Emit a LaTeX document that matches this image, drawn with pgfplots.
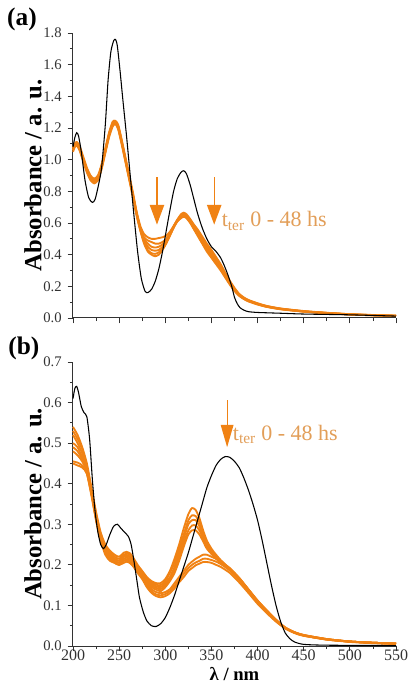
\documentclass[border=0pt]{standalone}
\usepackage{pgfplots}
\pgfplotsset{compat=1.18}
\usepackage{pgfplotstable}
\usepackage{fontspec}
\setmainfont{Liberation Serif}
\definecolor{org}{RGB}{240,130,20}
\definecolor{tan}{RGB}{226,158,88}
\definecolor{tick}{RGB}{50,50,50}

\pgfplotstableread{
x y
200 1.08
202 1.14
204 1.17
206 1.15
209 1.05
213 0.87
217 0.76
221 0.73
224 0.75
228 0.85
231 0.95
235 1.22
238 1.50
241 1.68
244 1.75
246 1.76
248 1.72
251 1.56
254 1.38
258 1.15
262 0.90
266 0.65
270 0.42
274 0.25
278 0.17
281 0.16
285 0.18
289 0.23
293 0.31
297 0.42
301 0.55
305 0.68
309 0.80
313 0.88
317 0.92
320 0.93
323 0.91
327 0.84
331 0.75
335 0.66
340 0.57
345 0.50
350 0.45
355 0.42
360 0.38
364 0.33
368 0.27
372 0.20
375 0.13
378 0.09
381 0.065
385 0.05
390 0.04
400 0.035
425 0.03
450 0.025
500 0.02
550 0.012
}\blackA

\pgfplotstableread{
x o1 o2 o3 o4 o5 o6
200 1.05 1.06 1.06 1.07 1.07 1.08
202 1.08 1.09 1.09 1.10 1.10 1.10
204 1.09 1.10 1.10 1.11 1.11 1.11
207 1.06 1.07 1.07 1.08 1.08 1.09
211 0.99 1.00 1.00 1.01 1.01 1.02
215 0.92 0.93 0.93 0.94 0.94 0.95
219 0.87 0.88 0.88 0.89 0.89 0.90
223 0.85 0.86 0.86 0.87 0.87 0.88
227 0.87 0.88 0.88 0.89 0.89 0.90
231 0.94 0.95 0.95 0.96 0.96 0.97
235 1.04 1.05 1.05 1.06 1.06 1.07
239 1.14 1.15 1.15 1.16 1.16 1.17
243 1.21 1.22 1.22 1.23 1.23 1.24
246 1.225 1.23 1.235 1.24 1.24 1.245
249 1.19 1.20 1.20 1.21 1.21 1.22
253 1.09 1.10 1.10 1.11 1.11 1.12
257 0.98 0.99 0.99 1.00 1.00 1.01
261 0.87 0.88 0.88 0.89 0.89 0.90
265 0.76 0.77 0.77 0.78 0.78 0.79
269 0.645 0.65 0.655 0.66 0.665 0.67
273 0.55 0.555 0.56 0.565 0.57 0.58
277 0.47 0.48 0.49 0.50 0.51 0.53
281 0.42 0.43 0.45 0.47 0.49 0.51
285 0.40 0.41 0.43 0.45 0.48 0.50
289 0.39 0.405 0.425 0.445 0.47 0.50
293 0.40 0.415 0.43 0.45 0.47 0.505
297 0.43 0.44 0.45 0.465 0.48 0.51
301 0.47 0.475 0.485 0.49 0.50 0.52
305 0.52 0.52 0.525 0.53 0.535 0.545
309 0.57 0.57 0.575 0.575 0.58 0.58
313 0.61 0.61 0.615 0.615 0.62 0.62
317 0.63 0.635 0.64 0.645 0.65 0.655
320 0.64 0.645 0.65 0.655 0.66 0.665
323 0.63 0.635 0.64 0.645 0.65 0.655
327 0.60 0.605 0.61 0.615 0.62 0.625
331 0.56 0.565 0.57 0.58 0.585 0.59
335 0.52 0.525 0.535 0.545 0.55 0.56
340 0.47 0.475 0.485 0.495 0.505 0.515
345 0.42 0.43 0.44 0.45 0.46 0.47
350 0.38 0.39 0.40 0.41 0.42 0.43
355 0.34 0.35 0.36 0.37 0.38 0.385
360 0.30 0.31 0.315 0.325 0.335 0.34
365 0.255 0.26 0.27 0.275 0.28 0.285
370 0.21 0.215 0.22 0.225 0.23 0.235
375 0.17 0.175 0.18 0.18 0.185 0.19
380 0.14 0.143 0.146 0.148 0.15 0.153
385 0.12 0.122 0.124 0.126 0.128 0.13
390 0.105 0.107 0.109 0.11 0.112 0.114
400 0.085 0.087 0.088 0.09 0.091 0.093
410 0.07 0.071 0.072 0.074 0.075 0.076
425 0.055 0.056 0.057 0.058 0.059 0.06
450 0.04 0.041 0.041 0.042 0.043 0.044
475 0.03 0.031 0.031 0.032 0.032 0.033
500 0.022 0.022 0.023 0.023 0.024 0.024
525 0.017 0.017 0.018 0.018 0.018 0.019
550 0.013 0.013 0.014 0.014 0.014 0.015
}\orangeA

\pgfplotstableread{
x y
200 0.61
202 0.635
204 0.64
206 0.625
209 0.59
212 0.575
215 0.565
218 0.51
221 0.41
224 0.33
227 0.28
230 0.25
233 0.24
236 0.25
240 0.275
244 0.295
248 0.30
252 0.29
256 0.28
260 0.27
263 0.25
266 0.21
269 0.165
272 0.12
276 0.085
280 0.062
285 0.05
290 0.048
295 0.055
300 0.07
305 0.095
310 0.125
315 0.16
320 0.195
325 0.23
330 0.27
335 0.31
340 0.35
345 0.39
350 0.42
355 0.445
360 0.46
365 0.467
370 0.465
375 0.455
380 0.44
385 0.415
390 0.385
395 0.35
400 0.31
405 0.26
410 0.205
415 0.15
420 0.10
425 0.06
430 0.032
435 0.018
440 0.01
450 0.004
475 0.002
550 0.001
}\blackB

\pgfplotstableread{
x c1 c2 c3 c4 c5 c6 c7 c8
200 .54 .53 .52 .50 .49 .48 .455 .45
205 .52 .51 .50 .49 .48 .47 .452 .445
210 .49 .485 .475 .465 .46 .455 .445 .44
215 .45 .445 .44 .435 .43 .43 .425 .425
220 .39 .385 .385 .38 .38 .375 .375 .37
225 .33 .325 .32 .32 .315 .315 .31 .31
230 .28 .275 .27 .27 .265 .265 .26 .26
235 .25 .245 .24 .24 .235 .235 .23 .225
240 .235 .23 .225 .225 .22 .215 .215 .21
245 .225 .22 .215 .215 .21 .21 .205 .205
250 .22 .215 .21 .21 .205 .205 .2 .2
255 .23 .225 .22 .22 .215 .21 .21 .205
258 .232 .228 .224 .222 .218 .214 .21 .208
262 .228 .224 .22 .218 .214 .21 .206 .204
266 .215 .211 .208 .205 .202 .199 .196 .194
270 .2 .197 .194 .191 .188 .185 .182 .18
275 .185 .182 .179 .176 .173 .17 .167 .165
280 .17 .167 .164 .161 .158 .153 .149 .145
285 .16 .157 .153 .149 .145 .14 .135 .131
290 .155 .151 .147 .143 .139 .133 .127 .123
295 .155 .15 .145 .14 .135 .13 .125 .12
300 .165 .16 .155 .15 .145 .133 .128 .123
305 .185 .18 .17 .165 .16 .14 .135 .13
310 .215 .205 .195 .19 .18 .155 .148 .142
315 .25 .24 .23 .22 .21 .17 .163 .157
320 .29 .275 .265 .255 .245 .185 .178 .17
325 .325 .31 .30 .285 .275 .2 .192 .185
329 .34 .322 .31 .297 .285 .208 .2 .192
333 .335 .32 .31 .297 .285 .215 .206 .199
337 .315 .305 .295 .285 .275 .22 .21 .203
341 .285 .28 .272 .265 .258 .225 .215 .207
345 .26 .255 .25 .245 .24 .225 .215 .207
350 .24 .237 .234 .23 .227 .22 .212 .205
355 .225 .222 .22 .218 .215 .215 .208 .2
360 .212 .21 .208 .207 .205 .208 .202 .195
370 .19 .19 .189 .188 .187 .192 .186 .18
380 .168 .167 .166 .165 .164 .168 .163 .157
390 .14 .139 .138 .137 .136 .14 .136 .131
400 .112 .111 .11 .109 .108 .112 .108 .104
410 .088 .087 .086 .085 .084 .087 .084 .081
420 .065 .064 .064 .063 .062 .064 .062 .06
430 .046 .045 .045 .044 .044 .045 .044 .043
440 .034 .034 .033 .033 .033 .034 .033 .032
450 .027 .027 .026 .026 .026 .027 .026 .025
475 .017 .017 .017 .016 .016 .017 .016 .016
500 .011 .011 .011 .011 .011 .011 .011 .01
525 .008 .008 .008 .008 .008 .008 .008 .007
550 .006 .006 .006 .006 .006 .006 .006 .005
}\orangeB

\pgfplotsset{
  panel/.style={
    scale only axis,
    width=242.25pt,
    xmin=200, xmax=550,
    ymin=0,
    axis x line*=bottom,
    axis y line*=left,
    axis line style={line width=0.75pt, black!80},
    tick align=outside,
    tick style={black!80, line width=0.6pt},
    major tick length=4pt,
    minor tick length=2.3pt,
    xtick={200,250,...,550},
    minor x tick num=1,
    minor y tick num=1,
    /pgf/number format/assume math mode=true,
    yticklabel style={font=\fontsize{11}{12}\selectfont, text=tick,
      /pgf/number format/fixed, /pgf/number format/fixed zerofill,
      /pgf/number format/precision=1, xshift=-1pt},
    xticklabel style={font=\fontsize{12}{13}\selectfont, text=tick, inner sep=0.5pt, yshift=2pt},
    ylabel={\textbf{Absorbance / a. u.}},
    ylabel style={font=\fontsize{18.5}{20}\selectfont, at={(axis description cs:-0.124,0.5)}, anchor=center, rotate=0},
    clip=false,
    oline/.style={org, line width=1.4pt, smooth, tension=0.4},
    bline/.style={black, line width=0.8pt, smooth, tension=0.4},
  }
}

\begin{document}
\begin{tikzpicture}
\path[use as bounding box] (-54.75pt,-31.5pt) rectangle (252pt,484.5pt);

% panel (a)
\begin{axis}[panel, at={(0,246pt)}, height=213.75pt, ymax=1.8,
  ytick={0,0.2,...,1.8}, xticklabels={}]
\pgfplotsinvokeforeach{o1,o2,o3,o4,o5,o6}{
  \addplot[oline] table[x=x, y=#1] {\orangeA};
}
\addplot[bline] table[x=x, y=y] {\blackA};
\draw[org, line width=0.9pt] (axis cs:291,0.89) -- (axis cs:291,0.70);
\fill[org] (axis cs:283,0.715) -- (axis cs:299,0.715) -- (axis cs:291,0.59) -- cycle;
\draw[org, line width=0.9pt] (axis cs:353,0.89) -- (axis cs:353,0.70);
\fill[org] (axis cs:345,0.715) -- (axis cs:361,0.715) -- (axis cs:353,0.59) -- cycle;
\node[anchor=base west, text=tan, font=\fontsize{16.5}{18}\selectfont, inner sep=0pt]
  at (axis cs:361,0.575) {t\textsubscript{ter} 0 - 48 hs};
\node[font=\fontsize{19}{20}\selectfont\bfseries] at (axis description cs:-0.158,1.046) {(a)};
\end{axis}

% panel (b)
\begin{axis}[panel, at={(0,0)}, height=213pt, ymax=0.7,
  ytick={0,0.1,...,0.7},
  xlabel={\textbf{λ / nm}},
  xlabel style={font=\fontsize{14}{15}\selectfont, at={(axis description cs:0.5,-0.074)}, anchor=north, inner sep=0pt}]
\pgfplotsinvokeforeach{c1,c2,c3,c4,c5,c6,c7,c8}{
  \addplot[oline] table[x=x, y=#1] {\orangeB};
}
\addplot[bline] table[x=x, y=y] {\blackB};
\draw[org, line width=0.9pt] (axis cs:367,0.606) -- (axis cs:367,0.53);
\fill[org] (axis cs:360,0.545) -- (axis cs:374,0.545) -- (axis cs:367,0.49) -- cycle;
\node[anchor=base west, text=tan, font=\fontsize{16.5}{18}\selectfont, inner sep=0pt]
  at (axis cs:373,0.507) {t\textsubscript{ter} 0 - 48 hs};
\node[font=\fontsize{19}{20}\selectfont\bfseries] at (axis description cs:-0.152,1.049) {(b)};
\end{axis}
\end{tikzpicture}
\end{document}
